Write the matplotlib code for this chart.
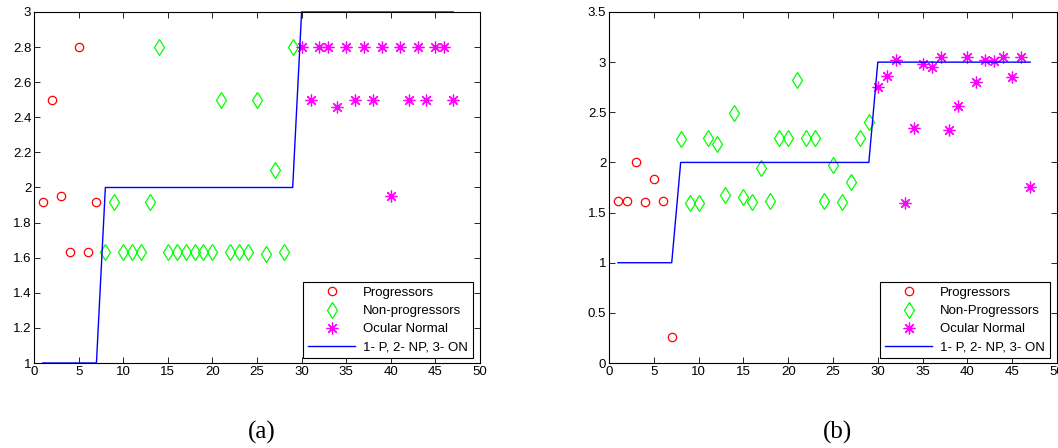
import matplotlib
matplotlib.use("Agg")
import matplotlib.pyplot as plt
import numpy as np
from matplotlib.ticker import FormatStrFormatter

plt.rcParams["font.family"] = ["Liberation Sans", "DejaVu Sans"]
plt.rcParams["font.size"] = 9.5

# subject index per group (same for both panels)
x_prog = list(range(1, 8))
x_nonprog = list(range(8, 30))
x_normal = list(range(30, 48))

# class label line: 1 - P, 2 - NP, 3 - ON
x_class = list(range(1, 48))
y_class = [1] * 7 + [2] * 22 + [3] * 18

# panel (a)
a_prog = [1.92, 2.5, 1.95, 1.63, 2.8, 1.63, 1.92]
a_nonprog = [1.63, 1.92, 1.63, 1.63, 1.63, 1.92, 2.8, 1.63, 1.63, 1.63, 1.63,
             1.63, 1.63, 2.5, 1.63, 1.63, 1.63, 2.5, 1.62, 2.1, 1.63, 2.8]
a_normal = [2.8, 2.5, 2.8, 2.8, 2.46, 2.8, 2.5, 2.8, 2.5, 2.8, 1.95, 2.8,
            2.5, 2.8, 2.5, 2.8, 2.8, 2.5]

# panel (b)
b_prog = [1.62, 1.62, 2.0, 1.61, 1.83, 1.62, 0.26]
b_nonprog = [2.23, 1.6, 1.6, 2.24, 2.18, 1.68, 2.49, 1.66, 1.61, 1.94, 1.62,
             2.24, 2.24, 2.82, 2.24, 2.24, 1.62, 1.97, 1.61, 1.80, 2.24, 2.40]
b_normal = [2.75, 2.86, 3.02, 1.6, 2.34, 2.98, 2.95, 3.05, 2.32, 2.56, 3.05,
            2.80, 3.02, 3.01, 3.05, 2.85, 3.05, 1.75]

panels = [
    ("(a)", a_prog, a_nonprog, a_normal, "Non-progressors", (1, 3), np.arange(1, 3.01, 0.2)),
    ("(b)", b_prog, b_nonprog, b_normal, "Non-Progressors", (0, 3.5), np.arange(0, 3.51, 0.5)),
]
positions = [[34 / 1058, 85 / 448, 446 / 1058, 351 / 448],
             [609 / 1058, 85 / 448, 448 / 1058, 351 / 448]]

fig = plt.figure(figsize=(10.58, 4.48), dpi=100)

for pos, (tag, prog, nonprog, normal, np_label, ylim, yticks) in zip(positions, panels):
    ax = fig.add_axes(pos)
    ax.plot(x_prog, prog, "o", mfc="none", mec="#ff0000", ms=6, mew=0.9,
            label="Progressors")
    ax.plot(x_nonprog, nonprog, "d", mfc="none", mec="#00ff00", ms=8, mew=0.9,
            label=np_label)
    ax.plot(x_normal, normal, ls="none", marker=(8, 2, 0), color="#ff00ff", ms=8.5,
            mew=0.9, label="Ocular Normal")
    ax.plot(x_class, y_class, color="#0000ff", lw=1, label="1- P, 2- NP, 3- ON",
            clip_on=False)

    ax.set_xlim(0, 50)
    ax.set_ylim(*ylim)
    ax.set_xticks(np.arange(0, 51, 5))
    ax.set_yticks(yticks)
    ax.yaxis.set_major_formatter(FormatStrFormatter("%g"))
    ax.tick_params(direction="in", top=True, right=True, length=4, width=0.6,
                   labelsize=9.5, pad=2)
    for sp in ax.spines.values():
        sp.set_linewidth(0.8)

    leg = ax.legend(loc="lower right", bbox_to_anchor=(0.984, 0.014),
                    borderaxespad=0, fancybox=False, edgecolor="black",
                    framealpha=1, handlelength=3.6, fontsize=9.5,
                    labelspacing=0.45, borderpad=0.35, handletextpad=0.6)
    leg.get_frame().set_linewidth(0.8)

    fig.text(pos[0] + pos[2] * 0.51, 0.008, tag, ha="center", va="bottom",
             fontsize=18, family=["Liberation Serif", "DejaVu Serif"])

fig.savefig("out.png", dpi=100)
